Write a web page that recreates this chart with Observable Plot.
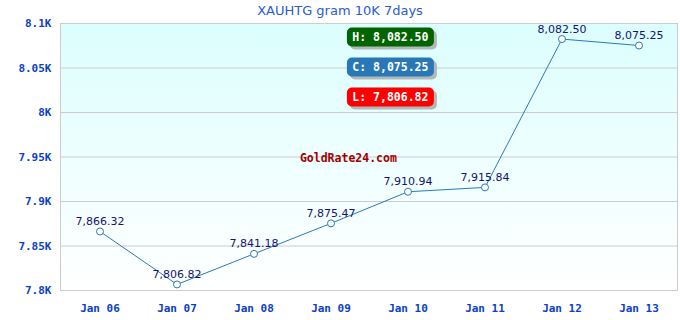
<!DOCTYPE html>
<html><head><meta charset="utf-8">
<script src="https://cdn.jsdelivr.net/npm/d3@7"></script>
<script src="https://cdn.jsdelivr.net/npm/@observablehq/plot@0.6"></script>
<style>
body{margin:0;background:#fff;width:680px;height:320px;overflow:hidden}
#title{height:22px;line-height:22px;text-align:center;font-family:"DejaVu Sans",sans-serif;font-size:13px;color:#2a5bd0}
</style></head><body>
<div id="title">XAUHTG gram 10K 7days</div>
<div id="chart"></div>
<script>
const dates = ["Jan 06","Jan 07","Jan 08","Jan 09","Jan 10","Jan 11","Jan 12","Jan 13"];
const prices = [7866.32, 7806.82, 7841.18, 7875.47, 7910.94, 7915.84, 8082.50, 8075.25];
const yTicks = [7800, 7850, 7900, 7950, 8000, 8050, 8100];
const watermark = "GoldRate24.com";

const data = dates.map((d, i) => ({date: d, price: prices[i]}));
const fmt = d3.format(",.2f");
const high = d3.max(prices), low = d3.min(prices), close = prices[prices.length - 1];
const badges = [
  {label: "H: " + fmt(high), color: "#006400"},
  {label: "C: " + fmt(close), color: "#2878b8"},
  {label: "L: " + fmt(low), color: "#ff0000"}
];

const background = (index, scales, values, dim) => {
  const g = d3.create("svg:g");
  const grad = g.append("defs").append("linearGradient").attr("id", "bg").attr("x1", 0).attr("y1", 0).attr("x2", 0).attr("y2", 1);
  grad.append("stop").attr("offset", "0%").attr("stop-color", "#dcfefe");
  grad.append("stop").attr("offset", "100%").attr("stop-color", "#ffffff");
  g.append("rect").attr("x", dim.marginLeft).attr("y", dim.marginTop)
    .attr("width", dim.width - dim.marginLeft - dim.marginRight)
    .attr("height", dim.height - dim.marginTop - dim.marginBottom)
    .attr("fill", "url(#bg)");
  return g.node();
};

const badgeMark = (index, scales, values, dim) => {
  const g = d3.create("svg:g");
  const cx = dim.marginLeft + (dim.width - dim.marginLeft - dim.marginRight) * 0.5355;
  const w = 87, h = 19;
  badges.forEach((b, i) => {
    const cy = dim.marginTop + 14 + i * 30;
    g.append("rect").attr("x", cx - w / 2 + 3).attr("y", cy - h / 2 + 3).attr("width", w).attr("height", h)
      .attr("rx", 5).attr("fill", "#b0b8b8");
    g.append("rect").attr("x", cx - w / 2).attr("y", cy - h / 2).attr("width", w).attr("height", h)
      .attr("rx", 5).attr("fill", b.color);
    g.append("text").attr("x", cx).attr("y", cy).attr("dy", "0.35em").attr("text-anchor", "middle")
      .attr("fill", "#fff").attr("font-family", "DejaVu Sans Mono, monospace").attr("font-weight", "bold")
      .attr("font-size", 11.5).text(b.label);
  });
  g.append("text").attr("x", cx - 42).attr("y", dim.marginTop + 135).attr("dy", "0.35em").attr("text-anchor", "middle")
    .attr("fill", "#a00000").attr("font-family", "DejaVu Sans Mono, monospace").attr("font-weight", "bold")
    .attr("font-size", 11.5).text(watermark);
  return g.node();
};

const chart = Plot.plot({
  width: 680, height: 298,
  marginLeft: 60, marginRight: 3, marginTop: 1, marginBottom: 30,
  style: {background: "transparent", overflow: "visible"},
  x: {type: "band", domain: dates, padding: 0, label: null},
  y: {domain: [7800, 8100], label: null},
  marks: [
    background,
    Plot.gridY(yTicks, {stroke: "#cccccc", strokeOpacity: 1}),
    Plot.frame({stroke: "#cccccc"}),
    Plot.axisY(yTicks, {tickSize: 0, tickPadding: 9, tickFormat: d => (d / 1000) + "K",
      fill: "#0b3fc7", fontWeight: "bold", fontSize: 11, fontFamily: "DejaVu Sans Mono, monospace", label: null}),
    Plot.axisX({tickSize: 0, tickPadding: 14, fill: "#0b3fc7", fontWeight: "bold", fontSize: 11,
      fontFamily: "DejaVu Sans Mono, monospace", label: null}),
    badgeMark,
    Plot.line(data, {x: "date", y: "price", stroke: "#2a7ab8", strokeWidth: 1}),
    Plot.dot(data, {x: "date", y: "price", r: 3.5, fill: "#fff", stroke: "#2a7ab8", strokeWidth: 1}),
    Plot.text(data, {x: "date", y: "price", text: d => fmt(d.price), dy: -10, fill: "#141470",
      fontSize: 11, fontFamily: "DejaVu Sans, sans-serif"})
  ]
});
chart.style.fontFamily = "DejaVu Sans, sans-serif";
document.getElementById("chart").appendChild(chart);
</script>
</body></html>
